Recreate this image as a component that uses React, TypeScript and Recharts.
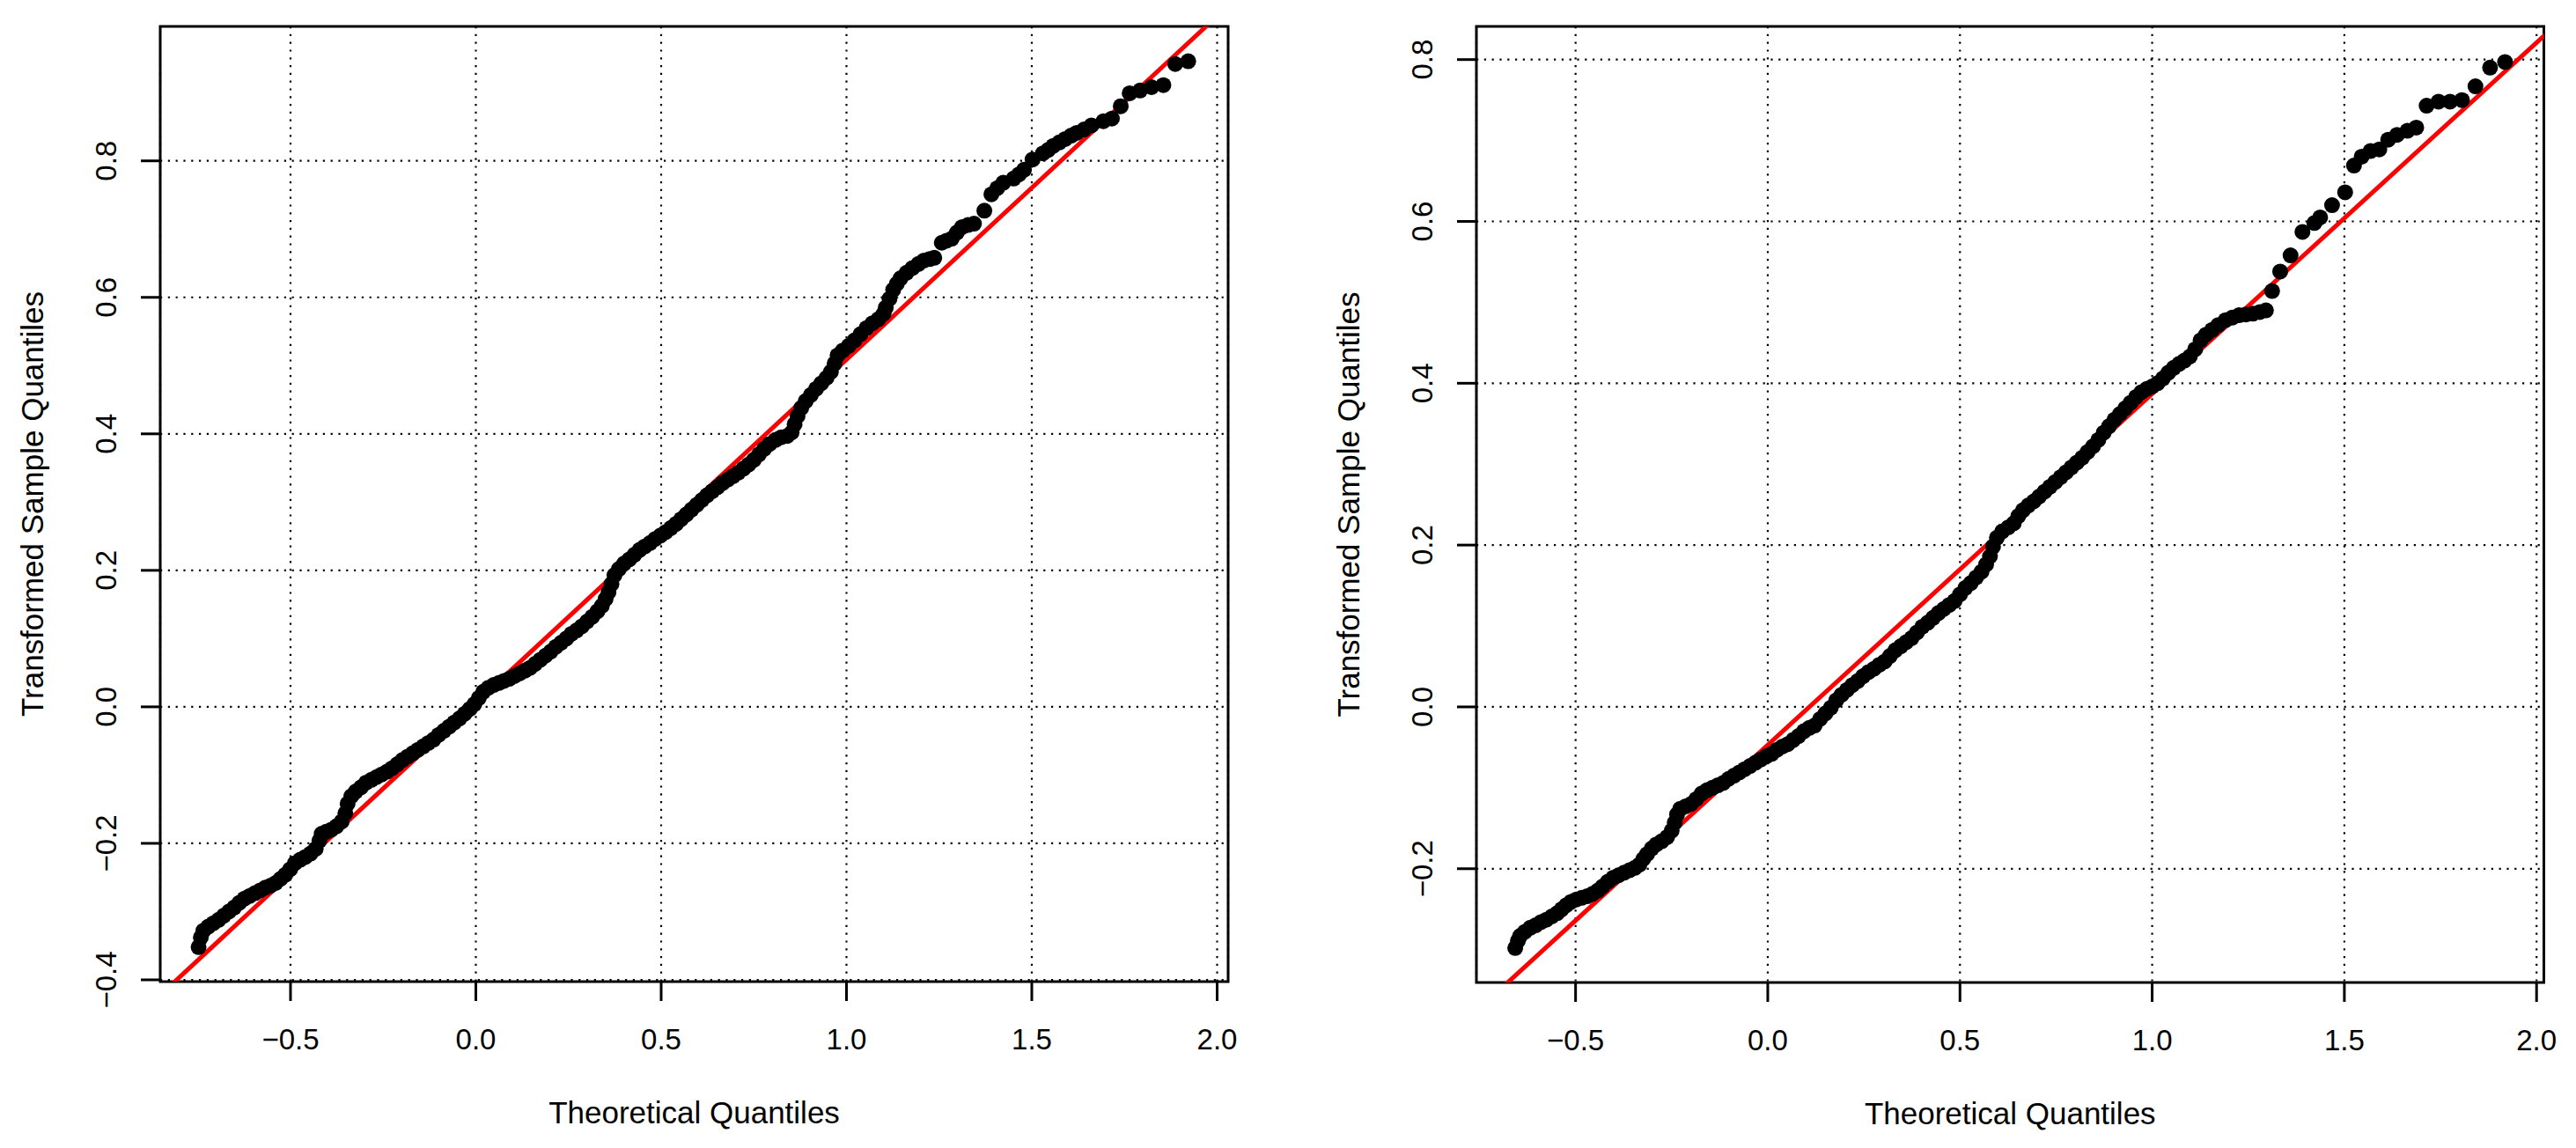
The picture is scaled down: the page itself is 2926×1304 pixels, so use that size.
import React from "react";
import {
  ScatterChart,
  Scatter,
  XAxis,
  YAxis,
  CartesianGrid,
  ReferenceLine,
  ReferenceArea,
} from "recharts";

// Two QQ plots side by side (R qqPlot look): black sample points,
// red reference line, dotted grid, boxed plot area.

const FONT = '"Liberation Sans", Arial, Helvetica, sans-serif';
const X_TITLE = "Theoretical Quantiles";
const Y_TITLE = "Transformed Sample Quantiles";

const X_TICKS = [-0.5, 0, 0.5, 1, 1.5, 2];
const LEFT_Y_TICKS = [-0.4, -0.2, 0, 0.2, 0.4, 0.6, 0.8];
const RIGHT_Y_TICKS = [-0.2, 0, 0.2, 0.4, 0.6, 0.8];

const LEFT_X_DOMAIN: [number, number] = [-0.8515, 2.0297];
const LEFT_Y_DOMAIN: [number, number] = [-0.4026, 0.997];
const RIGHT_X_DOMAIN: [number, number] = [-0.758, 2.019];
const RIGHT_Y_DOMAIN: [number, number] = [-0.3406, 0.841];

// reference lines
const LEFT_LINE = { intercept: 0.006, slope: 0.503 };
const RIGHT_LINE = { intercept: -0.047, slope: 0.434 };

// [theoretical, sample]
const LEFT_POINTS: [number, number][] = [
  [-0.748, -0.352], [-0.742, -0.338], [-0.735, -0.328], [-0.722, -0.322], [-0.708, -0.317],
  [-0.694, -0.312], [-0.68, -0.306], [-0.666, -0.3], [-0.652, -0.294], [-0.638, -0.287],
  [-0.624, -0.281], [-0.61, -0.277], [-0.596, -0.273], [-0.582, -0.269], [-0.568, -0.265],
  [-0.554, -0.262], [-0.54, -0.258], [-0.527, -0.252], [-0.514, -0.246], [-0.501, -0.238],
  [-0.488, -0.229], [-0.474, -0.224], [-0.46, -0.22], [-0.446, -0.215], [-0.432, -0.208],
  [-0.422, -0.196], [-0.416, -0.186], [-0.404, -0.183], [-0.39, -0.18], [-0.376, -0.175],
  [-0.362, -0.168], [-0.352, -0.156], [-0.346, -0.142], [-0.336, -0.131], [-0.324, -0.124],
  [-0.31, -0.118], [-0.296, -0.111], [-0.282, -0.107], [-0.268, -0.103], [-0.254, -0.099],
  [-0.24, -0.095], [-0.226, -0.09], [-0.212, -0.084], [-0.198, -0.078], [-0.184, -0.073],
  [-0.17, -0.068], [-0.156, -0.063], [-0.142, -0.058], [-0.128, -0.053], [-0.114, -0.048],
  [-0.1, -0.041], [-0.086, -0.035], [-0.072, -0.029], [-0.058, -0.023], [-0.044, -0.017],
  [-0.03, -0.01], [-0.016, -0.003], [-0.004, 0.004], [0.008, 0.013], [0.02, 0.022],
  [0.034, 0.028], [0.048, 0.032], [0.062, 0.035], [0.076, 0.038], [0.09, 0.041],
  [0.104, 0.045], [0.118, 0.049], [0.132, 0.053], [0.146, 0.057], [0.16, 0.063],
  [0.174, 0.069], [0.188, 0.075], [0.202, 0.081], [0.216, 0.088], [0.23, 0.094],
  [0.244, 0.1], [0.258, 0.107], [0.272, 0.112], [0.286, 0.118], [0.3, 0.125],
  [0.314, 0.132], [0.328, 0.14], [0.34, 0.148], [0.35, 0.158], [0.358, 0.168],
  [0.366, 0.18], [0.374, 0.193], [0.386, 0.202], [0.4, 0.21], [0.414, 0.216],
  [0.428, 0.223], [0.442, 0.23], [0.456, 0.235], [0.47, 0.24], [0.484, 0.246],
  [0.498, 0.251], [0.512, 0.256], [0.526, 0.262], [0.54, 0.268], [0.554, 0.275],
  [0.568, 0.282], [0.582, 0.289], [0.596, 0.296], [0.61, 0.303], [0.624, 0.31],
  [0.638, 0.316], [0.652, 0.322], [0.666, 0.328], [0.68, 0.333], [0.694, 0.338],
  [0.708, 0.343], [0.722, 0.349], [0.736, 0.355], [0.75, 0.362], [0.764, 0.37],
  [0.778, 0.378], [0.792, 0.385], [0.808, 0.391], [0.824, 0.395], [0.84, 0.397],
  [0.852, 0.402], [0.86, 0.414], [0.868, 0.426], [0.878, 0.438], [0.89, 0.448],
  [0.904, 0.457], [0.918, 0.466], [0.932, 0.474], [0.946, 0.482], [0.958, 0.491],
  [0.968, 0.503], [0.976, 0.515], [0.99, 0.522], [1.006, 0.529], [1.022, 0.537],
  [1.038, 0.546], [1.054, 0.555], [1.07, 0.562], [1.086, 0.568], [1.1, 0.576],
  [1.106, 0.585], [1.116, 0.598], [1.126, 0.611], [1.136, 0.62], [1.146, 0.628],
  [1.162, 0.636], [1.178, 0.643], [1.194, 0.649], [1.209, 0.654], [1.224, 0.656],
  [1.237, 0.658], [1.257, 0.68], [1.27, 0.683], [1.284, 0.686], [1.298, 0.695],
  [1.312, 0.703], [1.328, 0.706], [1.344, 0.708], [1.372, 0.727], [1.391, 0.751],
  [1.407, 0.76], [1.423, 0.768], [1.451, 0.774], [1.465, 0.78], [1.479, 0.787],
  [1.502, 0.802], [1.53, 0.811], [1.544, 0.816], [1.558, 0.822], [1.574, 0.827],
  [1.59, 0.832], [1.606, 0.837], [1.621, 0.841], [1.641, 0.846], [1.661, 0.852],
  [1.693, 0.858], [1.716, 0.862], [1.74, 0.88], [1.764, 0.899], [1.792, 0.903],
  [1.823, 0.908], [1.855, 0.911], [1.887, 0.942], [1.922, 0.946],
];

const RIGHT_POINTS: [number, number][] = [
  [-0.657, -0.298], [-0.65, -0.289], [-0.644, -0.283], [-0.632, -0.278], [-0.618, -0.273],
  [-0.604, -0.27], [-0.59, -0.266], [-0.576, -0.263], [-0.562, -0.259], [-0.548, -0.255],
  [-0.536, -0.25], [-0.524, -0.245], [-0.512, -0.241], [-0.498, -0.238], [-0.484, -0.236],
  [-0.47, -0.234], [-0.456, -0.231], [-0.442, -0.227], [-0.43, -0.222], [-0.416, -0.216],
  [-0.402, -0.211], [-0.388, -0.208], [-0.374, -0.205], [-0.36, -0.202], [-0.346, -0.199],
  [-0.334, -0.195], [-0.324, -0.188], [-0.314, -0.182], [-0.302, -0.175], [-0.29, -0.17],
  [-0.276, -0.166], [-0.262, -0.161], [-0.25, -0.153], [-0.242, -0.143], [-0.236, -0.133],
  [-0.228, -0.126], [-0.214, -0.123], [-0.2, -0.12], [-0.186, -0.114], [-0.172, -0.107],
  [-0.158, -0.103], [-0.144, -0.1], [-0.13, -0.097], [-0.116, -0.094], [-0.102, -0.089],
  [-0.088, -0.085], [-0.074, -0.081], [-0.06, -0.077], [-0.046, -0.073], [-0.032, -0.069],
  [-0.018, -0.065], [-0.004, -0.061], [0.01, -0.058], [0.024, -0.053], [0.038, -0.049],
  [0.052, -0.046], [0.066, -0.041], [0.08, -0.036], [0.094, -0.03], [0.108, -0.026],
  [0.122, -0.023], [0.136, -0.015], [0.15, -0.008], [0.164, -0.001], [0.178, 0.008],
  [0.192, 0.015], [0.206, 0.021], [0.22, 0.027], [0.234, 0.032], [0.248, 0.038],
  [0.262, 0.043], [0.276, 0.047], [0.29, 0.052], [0.304, 0.056], [0.318, 0.063],
  [0.332, 0.07], [0.346, 0.075], [0.36, 0.08], [0.374, 0.085], [0.388, 0.092],
  [0.402, 0.099], [0.416, 0.104], [0.43, 0.11], [0.444, 0.116], [0.458, 0.121],
  [0.472, 0.126], [0.486, 0.131], [0.5, 0.139], [0.514, 0.147], [0.528, 0.153],
  [0.542, 0.16], [0.556, 0.167], [0.568, 0.176], [0.578, 0.186], [0.586, 0.198],
  [0.596, 0.209], [0.61, 0.217], [0.626, 0.222], [0.64, 0.227], [0.652, 0.236],
  [0.664, 0.243], [0.678, 0.249], [0.692, 0.254], [0.706, 0.26], [0.72, 0.266],
  [0.734, 0.272], [0.748, 0.278], [0.762, 0.284], [0.776, 0.29], [0.79, 0.296],
  [0.804, 0.302], [0.818, 0.308], [0.832, 0.315], [0.846, 0.322], [0.86, 0.33],
  [0.874, 0.339], [0.888, 0.347], [0.902, 0.355], [0.916, 0.362], [0.93, 0.369],
  [0.944, 0.376], [0.958, 0.383], [0.972, 0.389], [0.986, 0.393], [1.0, 0.396],
  [1.014, 0.4], [1.028, 0.406], [1.042, 0.413], [1.056, 0.419], [1.07, 0.424],
  [1.084, 0.428], [1.098, 0.433], [1.112, 0.442], [1.126, 0.453], [1.14, 0.46],
  [1.156, 0.466], [1.172, 0.472], [1.191, 0.478], [1.208, 0.481], [1.226, 0.484],
  [1.244, 0.485], [1.262, 0.486], [1.28, 0.488], [1.296, 0.49], [1.312, 0.514],
  [1.333, 0.538], [1.36, 0.558], [1.391, 0.587], [1.422, 0.598], [1.437, 0.605],
  [1.468, 0.62], [1.502, 0.636], [1.525, 0.669], [1.545, 0.68], [1.568, 0.687],
  [1.591, 0.689], [1.614, 0.701], [1.637, 0.707], [1.664, 0.712], [1.687, 0.716],
  [1.714, 0.743], [1.745, 0.748], [1.775, 0.748], [1.806, 0.75], [1.841, 0.767],
  [1.879, 0.79], [1.918, 0.797],
];

const fmt = (v: number) => v.toFixed(1).replace("-", "\u2212");

function Dot(props: any) {
  const { cx, cy } = props;
  if (cx == null || cy == null) return null;
  return <circle cx={cx} cy={cy} r={9} fill="#000" />;
}

function XTick({ x, y, payload }: any) {
  return (
    <text x={x} y={y + 55} textAnchor="middle" fontSize={33} fontFamily={FONT} fill="#000">
      {fmt(payload.value)}
    </text>
  );
}

function YTick({ x, y, payload }: any) {
  const bx = x - 28;
  return (
    <text
      x={bx}
      y={y}
      transform={`rotate(-90, ${bx}, ${y})`}
      textAnchor="middle"
      fontSize={33}
      fontFamily={FONT}
      fill="#000"
    >
      {fmt(payload.value)}
    </text>
  );
}

interface PanelProps {
  points: [number, number][];
  line: { intercept: number; slope: number };
  xDomain: [number, number];
  yDomain: [number, number];
  yTicks: number[];
  margin: { top: number; right: number; bottom: number; left: number };
}

function QQPanel({ points, line, xDomain, yDomain, yTicks, margin }: PanelProps) {
  const data = points.map(([x, y]) => ({ x, y }));
  const width = 1463;
  const height = 1304;
  const plotLeft = margin.left + 100;
  const plotRight = width - margin.right;
  const plotTop = margin.top;
  const plotBottom = height - margin.bottom - 100;
  const x0 = xDomain[0] - 0.2;
  const x1 = xDomain[1] + 0.2;
  return (
    <div style={{ position: "relative", width, height }}>
      <ScatterChart width={width} height={height} margin={margin}>
        <CartesianGrid stroke="#000" strokeWidth={2.2} strokeDasharray="2.2 6.6" />
        <XAxis
          type="number"
          dataKey="x"
          domain={xDomain}
          allowDataOverflow
          ticks={X_TICKS}
          interval={0}
          height={100}
          axisLine={false}
          tickLine={{ stroke: "#000", strokeWidth: 3 }}
          tickSize={22}
          tickMargin={0}
          tick={<XTick />}
        />
        <YAxis
          type="number"
          dataKey="y"
          domain={yDomain}
          allowDataOverflow
          ticks={yTicks}
          interval={0}
          width={100}
          axisLine={false}
          tickLine={{ stroke: "#000", strokeWidth: 3 }}
          tickSize={22}
          tickMargin={0}
          tick={<YTick />}
        />
        <Scatter data={data} fill="#000" shape={<Dot />} isAnimationActive={false} />
        <ReferenceLine
          segment={[
            { x: x0, y: line.intercept + line.slope * x0 },
            { x: x1, y: line.intercept + line.slope * x1 },
          ]}
          stroke="#FF0000"
          strokeWidth={5}
          ifOverflow="hidden"
        />
        <ReferenceArea
          x1={xDomain[0]}
          x2={xDomain[1]}
          y1={yDomain[0]}
          y2={yDomain[1]}
          fill="none"
          fillOpacity={0}
          stroke="#000"
          strokeWidth={3}
          ifOverflow="visible"
        />
      </ScatterChart>
      <svg
        width={width}
        height={height}
        style={{ position: "absolute", left: 0, top: 0, pointerEvents: "none" }}
      >
        <text
          x={(plotLeft + plotRight) / 2}
          y={plotBottom + 161}
          textAnchor="middle"
          fontSize={35}
          fontFamily={FONT}
          fill="#000"
        >
          {X_TITLE}
        </text>
        <text
          x={plotLeft - 133}
          y={(plotTop + plotBottom) / 2}
          transform={`rotate(-90, ${plotLeft - 133}, ${(plotTop + plotBottom) / 2})`}
          textAnchor="middle"
          fontSize={35}
          fontFamily={FONT}
          fill="#000"
        >
          {Y_TITLE}
        </text>
      </svg>
    </div>
  );
}

export default function App() {
  return (
    <div
      style={{
        position: "absolute",
        left: 0,
        top: 0,
        width: 2926,
        height: 1304,
        background: "#fff",
        display: "flex",
      }}
    >
      <QQPanel
        points={LEFT_POINTS}
        line={LEFT_LINE}
        xDomain={LEFT_X_DOMAIN}
        yDomain={LEFT_Y_DOMAIN}
        yTicks={LEFT_Y_TICKS}
        margin={{ top: 30, right: 68, bottom: 89, left: 82 }}
      />
      <QQPanel
        points={RIGHT_POINTS}
        line={RIGHT_LINE}
        xDomain={RIGHT_X_DOMAIN}
        yDomain={RIGHT_Y_DOMAIN}
        yTicks={RIGHT_Y_TICKS}
        margin={{ top: 30, right: 36.5, bottom: 88, left: 114 }}
      />
    </div>
  );
}
